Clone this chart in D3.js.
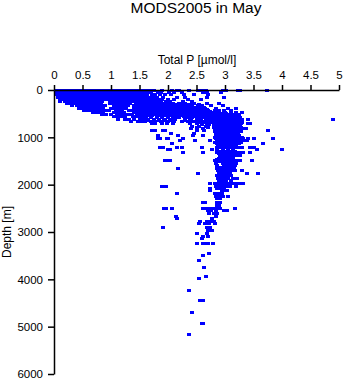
<!DOCTYPE html>
<html><head><meta charset="utf-8">
<script src="https://cdn.jsdelivr.net/npm/d3@7"></script>
<style>body{margin:0;background:#fff} text{font-family:"Liberation Sans",Arial,sans-serif}</style>
</head><body><svg id="c" width="345" height="384"></svg>
<script>
const chartTitle = "MODS2005 in May";
const xLabel = "Total P [µmol/l]";
const yLabel = "Depth [m]";
const xTicks = [0,0.5,1,1.5,2,2.5,3,3.5,4,4.5,5];
const yTicks = [0,1000,2000,3000,4000,5000,6000];

// [depth (m), [Total P values]]
const surfaceRows = [
 [0, [0.03,0.08,0.13,0.18,0.23,0.28,0.33,0.38,0.43,0.48,0.53,0.58,0.63,0.68,0.73,0.78,0.83,0.88,0.93,0.98,1.03,1.08,1.13,1.18,1.23,1.28,1.33,1.38,1.43,1.48,1.53,1.58,1.63,1.68,1.75,1.9,2.07,2.15,2.2,2.36,2.52,2.6,2.66,2.97,3.02,3.22,3.27,3.74]],
 [45, [0.05,0.1,0.15,0.2,0.25,0.3,0.35,0.4,0.45,0.5,0.55,0.6,0.65,0.7,0.75,0.8,0.85,0.9,0.95,1.0,1.05,1.1,1.15,1.2,1.25,1.3,1.35,1.4,1.45,1.5,1.55,1.6,1.65,1.71,1.82,1.88,2.02,2.1,2.25,2.62,2.68,2.93]],
 [95, [0.04,0.09,0.14,0.19,0.24,0.29,0.34,0.39,0.44,0.49,0.54,0.59,0.64,0.69,0.74,0.79,0.84,0.89,0.94,0.99,1.04,1.09,1.14,1.19,1.24,1.29,1.34,1.39,1.44,1.49,1.54,1.59,1.64,1.72,1.78,1.86,1.95,2.05,2.28,2.45,2.7]],
 [140, [0.07,0.12,0.17,0.22,0.27,0.32,0.37,0.42,0.47,0.52,0.57,0.62,0.67,0.72,0.77,0.82,0.87,0.92,0.97,1.02,1.07,1.12,1.17,1.22,1.27,1.32,1.37,1.42,1.47,1.52,1.57,1.62,1.68,1.74,1.8,1.92,2.15,2.3,2.68,2.98]],
 [190, [0.1,0.16,0.21,0.26,0.31,0.36,0.41,0.46,0.51,0.56,0.61,0.66,0.71,0.76,0.81,0.86,0.91,0.96,1.01,1.06,1.11,1.16,1.21,1.26,1.31,1.36,1.41,1.46,1.51,1.56,1.61,1.66,1.71,1.77,1.84,1.9,2.0,2.1,2.35,2.58]],
 [235, [0.11,0.19,0.24,0.29,0.34,0.39,0.44,0.49,0.54,0.59,0.64,0.69,0.74,0.79,0.84,0.99,1.04,1.09,1.14,1.19,1.24,1.29,1.34,1.39,1.44,1.49,1.54,1.59,1.63,1.68,1.74,1.8,1.88,1.96,2.04,2.26,2.42]],
 [280, [0.22,0.28,0.33,0.38,0.43,0.48,0.53,0.58,0.63,0.68,0.73,0.78,0.83,0.98,1.03,1.08,1.13,1.18,1.23,1.28,1.33,1.43,1.48,1.53,1.58,1.62,1.67,1.72,1.78,1.84,1.9,1.96,2.02,2.08,2.2,2.3,2.45,2.68,2.9]],
 [300, [1.64,1.7,1.76,1.82,1.88,1.94,2.0,2.06,2.12,2.18,2.25,2.35,2.42,2.55]],
 [325, [0.32,0.4,0.45,0.5,0.55,0.6,0.65,0.7,0.75,0.8,0.85,0.9,1.05,1.1,1.15,1.2,1.25,1.3,1.4,1.45,1.5,1.55,1.6,1.65,1.7,1.76,1.82,1.88,1.94,2.0,2.08,2.15,2.22,2.3,2.38,2.52,2.6,2.75,2.97]],
 [350, [1.6,1.66,1.74,1.8,1.86,1.92,1.98,2.04,2.12,2.18,2.25,2.33,2.4,2.47,2.55,2.63]],
 [370, [0.44,0.5,0.56,0.61,0.66,0.71,0.76,0.81,0.86,1.0,1.06,1.11,1.16,1.21,1.26,1.41,1.46,1.51,1.56,1.61,1.66,1.72,1.78,1.84,1.9,1.95,2.0,2.08,2.14,2.2,2.27,2.35,2.42,2.5,2.58,2.65,2.85,3.05,3.2]],
 [395, [1.63,1.69,1.75,1.81,1.87,1.93,2.03,2.11,2.17,2.24,2.32,2.38,2.46,2.53,2.61,2.68]],
 [415, [0.52,0.6,0.66,0.72,0.78,0.84,0.9,0.96,1.08,1.14,1.2,1.32,1.38,1.44,1.5,1.56,1.62,1.7,1.75,1.82,1.88,1.95,2.05,2.12,2.2,2.3,2.4,2.47,2.55,2.62,2.7,2.82,2.9,2.98,3.1]],
 [440, [1.6,1.66,1.73,1.79,1.86,1.92,2.0,2.08,2.16,2.25,2.35,2.43,2.5,2.58,2.66,2.74]],
 [460, [0.68,0.75,0.8,0.86,1.05,1.1,1.16,1.22,1.4,1.46,1.52,1.58,1.64,1.7,1.76,1.84,1.9,1.98,2.06,2.14,2.22,2.3,2.38,2.45,2.52,2.6,2.68,2.8,2.9,3.0,3.1,3.2,3.3]],
 [485, [1.62,1.68,1.74,1.8,1.88,1.96,2.04,2.12,2.2,2.26,2.34,2.44,2.54,2.64,2.74,2.82,2.88,2.95,3.02]],
 [505, [0.85,0.92,1.0,1.1,1.16,1.22,1.3,1.36,1.46,1.52,1.6,1.66,1.72,1.78,1.85,1.93,2.0,2.1,2.18,2.3,2.4,2.5,2.6,2.7,2.78,2.85,2.92,3.0,3.05,3.1,3.15,3.2,3.25]],
 [530, [1.56,1.64,1.72,1.8,1.86,1.95,2.04,2.12,2.22,2.32,2.4,2.48,2.56,2.68,2.76,2.84,2.9,2.98,3.1,3.18]],
 [555, [1.05,1.12,1.18,1.25,1.38,1.45,1.52,1.6,1.7,1.8,1.9,2.0,2.08,2.15,2.28,2.35,2.45,2.52,2.6,2.65,2.72,2.8,2.88,2.95,3.02,3.08,3.15,3.22]],
 [580, [1.62,1.7,1.8,1.9,2.0,2.1,2.2,2.34,2.42,2.54,2.62,2.7,2.78,2.86,2.93,3.0,3.06,3.12,3.18,3.26]],
 [605, [1.12,1.25,1.32,1.4,1.5,1.58,1.65,1.75,1.85,1.95,2.05,2.12,2.3,2.38,2.5,2.58,2.68,2.75,2.82,2.9,2.96,3.02,3.08,3.14,3.2,3.3,3.4,4.9]],
 [630, [1.65,1.75,1.84,1.93,2.03,2.3,2.4,2.5,2.58,2.66,2.74,2.82,2.88,2.94,3.04,3.1,3.16,3.22]],
 [650, [1.35,1.48,1.55,1.6,1.7,1.78,1.88,2.0,2.1,2.25,2.35,2.45,2.55,2.62,2.7,2.78,2.85,2.9,2.96,3.0,3.06,3.12,3.18,3.24]],
 [675, [2.55,2.65,2.74,2.82,2.88,2.95,3.02,3.08,3.14,3.2,3.3]]
];

const thermoclineRows = [
 [700, [1.72,1.78,1.9,1.98,2.09,2.38,2.5,2.6,2.68,2.8,2.86,2.92,2.98,3.04,3.1,3.16,3.22,3.28,3.4,3.44]],
 [725, [2.6,2.72,2.82,2.9,2.96,3.02,3.08,3.14,3.2,3.26]],
 [750, [2.42,2.55,2.66,2.8,2.86,2.92,2.98,3.04,3.1,3.16,3.22]],
 [775, [2.5,2.7,2.8,2.87,2.93,3.0,3.06,3.12,3.2,3.28]],
 [800, [2.4,2.62,2.82,2.88,2.94,3.0,3.06,3.12,3.18,3.24,3.3,3.36]],
 [845, [1.72,1.77,1.91,1.95,2.5,2.64,2.84,2.9,2.96,3.02,3.08,3.14,3.2,3.26,3.75]],
 [870, [2.82,2.88,2.95,3.02,3.08,3.14,3.2,3.28]],
 [900, [2.05,2.45,2.86,2.92,2.98,3.04,3.1,3.16,3.22]],
 [930, [2.84,2.9,2.96,3.02,3.08,3.14,3.2]],
 [960, [1.82,2.18,2.44,2.62,2.86,2.92,2.98,3.04,3.1,3.16,3.24]],
 [985, [2.82,2.88,2.94,3.0,3.06,3.12,3.18,3.25,3.3]],
 [1010, [1.83,1.86,1.98,2.0,2.26,2.84,2.9,2.96,3.02,3.08,3.14,3.2,3.26,3.32,3.4,3.5,3.84]],
 [1035, [2.86,2.92,2.98,3.04,3.1,3.18]],
 [1060, [2.21,2.47,2.74,2.86,2.92,2.98,3.04,3.1,3.16,3.22,3.28,3.34,3.39]],
 [1090, [2.82,2.9,2.96,3.02,3.08,3.14,3.2,3.28]],
 [1120, [2.07,2.86,2.92,2.98,3.04,3.1,3.16,3.24,3.67]],
 [1160, [2.88,2.94,3.0,3.06,3.12,3.2]],
 [1200, [1.86,1.91,2.16,2.25,2.6,2.86,2.92,2.98,3.04,3.1,3.16,3.22,3.3,3.44,3.5]],
 [1250, [2.0,2.03,2.77,2.86,2.96,3.06,3.14,3.56,4.0]],
 [1280, [2.9,2.98,3.04,3.1,3.18]],
 [1310, [2.26,2.61,2.86,2.96,3.02,3.08,3.14,3.2,3.26,3.32,3.44]],
 [1340, [2.9,2.98,3.05,3.12]],
 [1370, [2.96,3.02,3.08,3.14,3.2,3.26]],
 [1400, [2.92,3.0,3.08]],
 [1430, [2.9,2.98,3.06,3.14]],
 [1455, [2.86,2.94,3.02,3.1]],
 [1480, [1.95,1.98,2.03,2.82,2.86,2.96,3.02,3.08,3.14,3.2,3.26,3.47]],
 [1510, [2.9,2.98,3.06]],
 [1540, [2.84,2.96,3.02,3.08,3.14,3.2]],
 [1590, [2.86,2.98,3.04,3.1,3.18]],
 [1620, [2.9,2.96,3.04]],
 [1650, [2.18,2.86,2.92,2.98,3.04,3.1,3.16]],
 [1700, [2.88,2.94,3.0,3.06,3.12,3.18,3.3]],
 [1755, [2.53,2.9,2.96,3.02,3.08,3.39,3.58]],
 [1800, [2.86,2.92,2.98,3.04,3.1]],
 [1850, [2.88,2.94,3.0,3.06,3.14,3.21]],
 [1910, [2.9,2.96,3.02,3.1]],
 [1970, [2.74,2.82,2.88,2.94,3.0,3.06,3.12,3.18,3.25,3.32]],
 [2030, [1.9,1.96,2.84,2.9,2.96,3.02,3.08,3.2]],
 [2070, [2.74,2.86,2.92,2.98]],
 [2115, [2.74,2.95,3.0,3.04]],
 [2180, [2.16,2.82,2.88,2.94]],
 [2240, [2.84,2.9,2.96,3.05]],
 [2285, [2.86,2.92]],
 [2370, [2.61,2.65,2.86,2.91]],
 [2420, [2.86,2.9]]
];

const deepRows = [
 [2490, [1.93,1.96,2.07,2.62,2.68,2.74,2.8,2.86,2.91,3.18]],
 [2540, [2.7,2.76,2.84,2.98,3.03]],
 [2600, [2.72,2.8,2.86]],
 [2665, [2.14,2.84]],
 [2700, [2.16,2.78]],
 [2760, [2.56,2.68,2.74,2.8]],
 [2800, [2.54,2.65,2.72,2.82]],
 [2890, [1.91,2.68,2.74]],
 [2950, [2.7,2.77]],
 [3020, [2.51,2.68]],
 [3080, [2.62,2.7]],
 [3130, [2.6]],
 [3240, [2.51,2.62,2.66,2.7,2.79]],
 [3440, [2.72]],
 [3490, [2.61]],
 [3590, [2.54]],
 [3740, [2.63]],
 [3930, [2.67]],
 [3970, [2.54]],
 [4230, [2.37]],
 [4440, [2.56,2.61]],
 [4690, [2.42]],
 [4920, [2.6,2.61]],
 [5160, [2.37]]
];

const points = [...surfaceRows, ...thermoclineRows, ...deepRows]
  .flatMap(([d, ps]) => ps.map(p => ({p, d})));

const svg = d3.select("#c");
const x = d3.scaleLinear().domain([0, 5]).range([54, 339]);
const y = d3.scaleLinear().domain([0, 6000]).range([90, 374]);

svg.append("g").selectAll("rect").data(points).join("rect")
  .attr("x", d => Math.round(x(d.p)) - 2)
  .attr("y", d => Math.round(y(d.d)) - 1)
  .attr("width", 4).attr("height", 3)
  .attr("fill", "#0000ff");

const xa = svg.append("g").attr("transform", "translate(0,90)")
  .call(d3.axisTop(x).tickValues(xTicks).tickFormat(d => String(d)).tickSize(5).tickSizeOuter(0).tickPadding(6));
const ya = svg.append("g").attr("transform", "translate(54,0)")
  .call(d3.axisLeft(y).tickValues(yTicks).tickFormat(d => String(d)).tickSize(6).tickSizeOuter(0).tickPadding(5));
[xa, ya].forEach(g => {
  g.attr("font-family", null).attr("font-size", null);
  g.selectAll("text").style("font-size", "11.5px").attr("fill", "#000");
  g.selectAll("path,line").attr("stroke", "#000").attr("stroke-width", 1.5);
});

svg.append("text").attr("x", 196).attr("y", 13).attr("text-anchor", "middle")
  .style("font-size", "15.5px").text(chartTitle);
svg.append("text").attr("x", 197).attr("y", 64).attr("text-anchor", "middle")
  .style("font-size", "12px").text(xLabel);
svg.append("text").attr("transform", "translate(11,232) rotate(-90)").attr("text-anchor", "middle")
  .style("font-size", "12px").text(yLabel);
</script>
</body></html>
